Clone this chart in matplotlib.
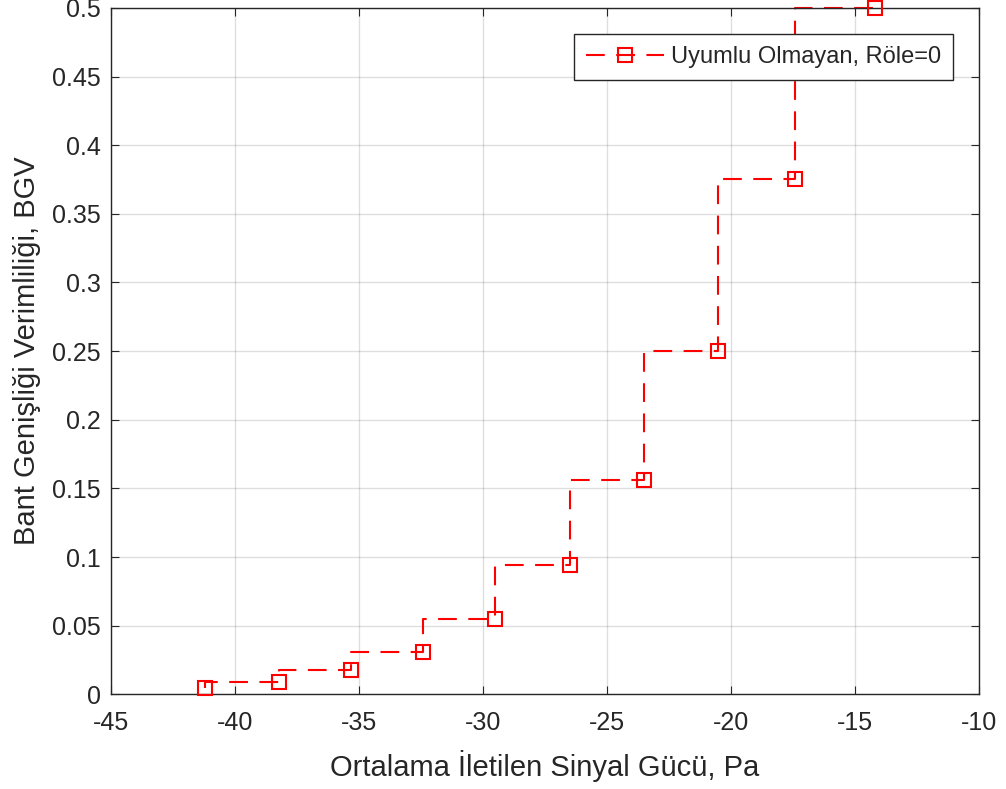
import matplotlib
matplotlib.use('Agg')
from matplotlib import pyplot as plt
import numpy as np

# Ortalama iletilen sinyal gucu (dB) ve bant genisligi verimliligi
pa = [-41.2, -38.2, -35.3, -32.4, -29.5, -26.5, -23.5, -20.5, -17.4, -14.2]
bgv = [0.0045, 0.009, 0.0175, 0.031, 0.0545, 0.094, 0.156, 0.25, 0.375, 0.5]

xticks = np.arange(-45, -9, 5)
yticks = np.arange(0, 0.51, 0.05)
ytick_labels = ['0', '0.05', '0.1', '0.15', '0.2', '0.25', '0.3', '0.35', '0.4', '0.45', '0.5']


def main():
    plt.rcParams['font.family'] = ['Liberation Sans', 'DejaVu Sans']
    dark = '#262626'

    fig = plt.figure(figsize=(10.06, 7.89), dpi=100)
    ax = fig.add_axes([0.110, 0.120, 0.863, 0.870])

    # stairs line, markers at the data points
    ax.step(pa, bgv, where='pre', color='red', lw=1.5,
            linestyle=(0, (9, 5.5)), clip_on=False)
    ax.plot(pa, bgv, 's', color='red', mfc='none', ms=9.5, mew=1.5,
            clip_on=False, zorder=3)
    # legend proxy
    ax.plot([], [], color='red', lw=1.5, linestyle=(0, (9, 5.5)), marker='s',
            mfc='none', ms=9.5, mew=1.5, label='Uyumlu Olmayan, Röle=0')

    ax.set_xlim(-45, -10)
    ax.set_ylim(0, 0.5)
    ax.set_xticks(xticks)
    ax.set_xticklabels([str(v) for v in xticks])
    ax.set_yticks(yticks)
    ax.set_yticklabels(ytick_labels)

    ax.grid(True, color='#262626', alpha=0.15, lw=1)
    ax.set_axisbelow(True)
    ax.tick_params(direction='in', top=True, right=True, length=6,
                   colors=dark, labelsize=18)
    ax.tick_params(axis='x', pad=12)
    ax.tick_params(axis='y', pad=7)
    for s in ax.spines.values():
        s.set_color(dark)
        s.set_linewidth(1)

    ax.set_xlabel('Ortalama İletilen Sinyal Gücü, Pa', fontsize=21, color=dark,
                  labelpad=11)
    ax.set_ylabel('Bant Genişliği Verimliliği, BGV', fontsize=21, color=dark,
                  labelpad=8)

    leg = ax.legend(loc='upper right', bbox_to_anchor=(0.970, 0.962),
                    borderaxespad=0, fontsize=17, handlelength=3.3,
                    fancybox=False, framealpha=1, borderpad=0.5,
                    handletextpad=0.3)
    leg.get_frame().set_edgecolor(dark)
    leg.get_frame().set_linewidth(1)
    for t in leg.get_texts():
        t.set_color(dark)

    fig.savefig('out.png', dpi=100)


if __name__ == '__main__':
    main()
